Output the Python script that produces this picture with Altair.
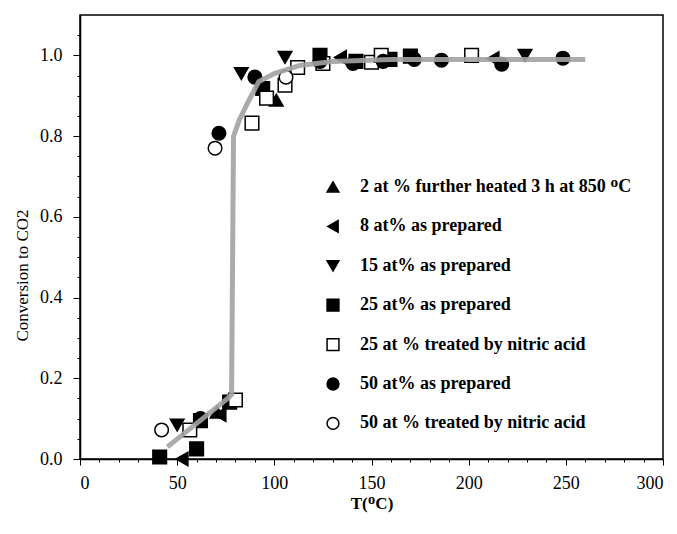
import altair as alt
import pandas as pd

series_names = [
    "2 at % further heated 3 h at 850 ᴼC",
    "8 at%  as prepared",
    "15 at% as prepared",
    "25 at% as prepared",
    "25 at % treated by nitric acid",
    "50 at% as prepared",
    "50 at % treated by nitric acid",
]
shapes = ["triangle-up", "triangle-left", "triangle-down", "square", "square", "circle", "circle"]
fills = ["black", "black", "black", "black", "white", "black", "white"]
strokes = ["black"] * 7

s1_x = [70.5, 101]
s1_y = [0.116, 0.889]
s2_x = [52.5, 72, 134, 212.5]
s2_y = [0.0, 0.11, 0.995, 0.992]
s3_x = [50, 83, 105.5, 229]
s3_y = [0.084, 0.955, 0.995, 1.0]
s4_x = [41, 60, 62, 77, 94, 123.5, 142, 159.5, 170]
s4_y = [0.005, 0.025, 0.095, 0.141, 0.918, 1.0, 0.985, 0.99, 0.998]
s5_x = [56.5, 80, 88.5, 96, 105.5, 112, 125, 150, 155, 201.5]
s5_y = [0.072, 0.146, 0.832, 0.894, 0.926, 0.97, 0.98, 0.983, 1.0, 1.0]
s6_x = [62, 71.5, 90, 123.5, 140.5, 156, 172, 186, 217, 248.5]
s6_y = [0.1, 0.807, 0.946, 0.985, 0.98, 0.985, 0.99, 0.988, 0.978, 0.993]
s7_x = [42, 69.5, 106]
s7_y = [0.072, 0.77, 0.946]

fit_x = [45, 76, 78, 79, 82, 86, 92, 100, 113, 130, 160, 200, 260]
fit_y = [0.03, 0.15, 0.16, 0.8, 0.84, 0.88, 0.935, 0.955, 0.975, 0.985, 0.99, 0.99, 0.99]

x_major = [0, 50, 100, 150, 200, 250, 300]
y_major = [0, 0.2, 0.4, 0.6, 0.8, 1.0]
x_minor = [v for v in range(10, 300, 10) if v % 50 != 0]
y_minor = [0.05, 0.1, 0.15, 0.25, 0.3, 0.35, 0.45, 0.5, 0.55, 0.65, 0.7, 0.75, 0.85, 0.9, 0.95, 1.05]

xs = [s1_x, s2_x, s3_x, s4_x, s5_x, s6_x, s7_x]
ys = [s1_y, s2_y, s3_y, s4_y, s5_y, s6_y, s7_y]
rows = []
for name, sx, sy in zip(series_names, xs, ys):
    for a, b in zip(sx, sy):
        rows.append({"T": a, "conv": b, "series": name})
pts = pd.DataFrame(rows)
fit = pd.DataFrame({"T": fit_x, "conv": fit_y})

FONT = "Liberation Serif"

xscale = alt.Scale(domain=[0, 300], nice=False)
yscale = alt.Scale(domain=[0, 1.1], nice=False)

xaxis = alt.Axis(
    orient="bottom", values=x_major, title="T(ᴼC)", grid=False,
    labelFont=FONT, labelFontSize=18, labelColor="black", labelPadding=9,
    tickColor="black", tickSize=6, domainColor="black", domainWidth=1.5,
    titleFont=FONT, titleFontSize=17, titleFontWeight="bold", titleColor="black",
    titlePadding=3,
)
yaxis = alt.Axis(
    orient="left", values=y_major, format=".1f", title="Conversion to CO2", grid=False,
    labelFont=FONT, labelFontSize=18, labelColor="black", labelPadding=11,
    tickColor="black", tickSize=7, domainColor="black", domainWidth=1.5,
    titleFont=FONT, titleFontSize=17, titleFontWeight="normal", titleColor="black",
    titleX=-49, titleY=260,
)
xaxis_minor = alt.Axis(
    orient="bottom", values=x_minor, title=None, labels=False, domain=False, grid=False,
    tickColor="black", tickSize=3, tickWidth=1,
)
yaxis_minor = alt.Axis(
    orient="left", values=y_minor, title=None, labels=False, domain=False, grid=False,
    tickColor="black", tickSize=3, tickWidth=1,
)

points = alt.Chart(pts).mark_point(size=185, strokeWidth=1.5, opacity=1, filled=True).encode(
    x=alt.X("T:Q", scale=xscale, axis=xaxis),
    y=alt.Y("conv:Q", scale=yscale, axis=yaxis),
    shape=alt.Shape("series:N", scale=alt.Scale(domain=series_names, range=shapes),
                    legend=alt.Legend(title=None)),
    fill=alt.Fill("series:N", scale=alt.Scale(domain=series_names, range=fills),
                  legend=alt.Legend(title=None)),
    stroke=alt.Stroke("series:N", scale=alt.Scale(domain=series_names, range=strokes),
                      legend=alt.Legend(title=None)),
)

line = alt.Chart(fit).mark_line(color="#a2a2a2", strokeWidth=5, opacity=0.9).encode(
    x=alt.X("T:Q", scale=xscale, axis=xaxis_minor),
    y=alt.Y("conv:Q", scale=yscale, axis=yaxis_minor),
)

chart = alt.layer(points, line).resolve_axis(
    x="independent", y="independent"
).properties(
    width=583, height=444,
    autosize=alt.AutoSizeParams(type="none"),
    padding={"left": 80, "top": 15, "right": 14, "bottom": 75},
).configure_view(
    stroke="black", strokeWidth=1.5
).configure_legend(
    orient="none", legendX=244, legendY=163, padding=0,
    labelFont=FONT, labelFontSize=18, labelFontWeight="bold", labelColor="black", labelOffset=18,
    symbolSize=140, symbolStrokeWidth=1.5,
    rowPadding=21.4, labelLimit=400,
)

chart.save("out.html", embed_options={"renderer": "svg", "actions": False})
